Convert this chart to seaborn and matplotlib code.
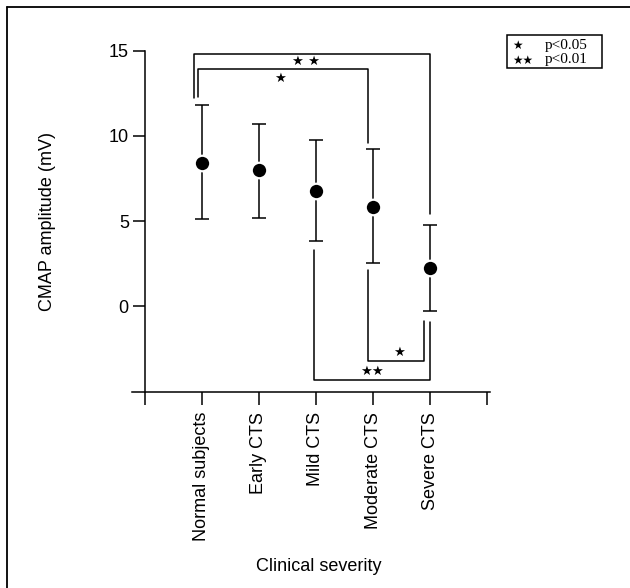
import matplotlib
matplotlib.use("Agg")
import matplotlib.pyplot as plt
import seaborn as sns
import numpy as np
import pandas as pd
from matplotlib.patches import Rectangle
from matplotlib.lines import Line2D

# ---- data ----
categories = ["Normal subjects", "Early CTS", "Mild CTS", "Moderate CTS", "Severe CTS"]
means = [8.43, 7.98, 6.76, 5.82, 2.25]
upper = [11.82, 10.70, 9.74, 9.22, 4.80]
lower = [5.14, 5.20, 3.84, 2.57, -0.24]
yticks = [0, 5, 10, 15]
legend_marks = ["★", "★★"]
legend_labels = ["p<0.05", "p<0.01"]

sns.set_style("white")
plt.rcParams['font.family'] = ['Liberation Sans', 'DejaVu Sans']
plt.rcParams.update({'text.color': 'black', 'axes.labelcolor': 'black',
                     'xtick.color': 'black', 'ytick.color': 'black'})

positions = list(range(1, len(categories) + 1))
df = pd.DataFrame({"pos": positions, "mean": means, "upper": upper, "lower": lower,
                   "cat": categories})

fig = plt.figure(figsize=(6.3, 5.88), dpi=100)
ax = fig.add_axes([131.7 / 630, 1 - 391.7 / 588, (490 - 131.7) / 630, (391.7 - 47.3) / 588])

yerr = [np.array(means) - np.array(lower), np.array(upper) - np.array(means)]
ax.errorbar(df["pos"], df["mean"], yerr=yerr, fmt='none', ecolor='black',
            elinewidth=1.1, capsize=4.8, capthick=1.1, zorder=2)
sns.scatterplot(data=df, x="pos", y="mean", ax=ax, s=125, color='black',
                edgecolor='white', linewidth=1.6, zorder=3, legend=False)

ax.set_xlim(-0.23, 6.05)
ax.set_ylim(-5, 15.2)

for s in ["top", "right"]:
    ax.spines[s].set_visible(False)
ax.spines["left"].set_position(("data", 0))
ax.spines["left"].set_bounds(-5, 15)
ax.spines["bottom"].set_position(("data", -5))
ax.spines["bottom"].set_bounds(-0.23, 6.05)
for s in ["left", "bottom"]:
    ax.spines[s].set_color('black')
    ax.spines[s].set_linewidth(1.1)

ax.set_xticks(range(0, 7))
ax.set_xticklabels([""] + categories + [""], rotation=90, fontsize=13)
ax.set_yticks(yticks)
ax.set_yticklabels([str(v) for v in yticks], fontsize=13)
ax.tick_params(axis='x', direction='out', length=9.5, width=1.1, pad=5, colors='black',
               bottom=True)
ax.tick_params(axis='y', direction='out', length=9, width=1.1, pad=2.5, colors='black',
               left=True)

ax.set_xlabel("Clinical severity", fontsize=13)
ax.xaxis.set_label_coords((319 - 131.7) / 358.3, -(558 - 391.7) / 344.4)
ax.set_ylabel("CMAP amplitude (mV)", fontsize=13)
ax.yaxis.label.set_va('center')
ax.yaxis.set_label_coords((48 - 131.7) / 358.3, 0.495)

# ---- significance brackets ----
lk = dict(color='black', lw=1.1, clip_on=False, zorder=1)
ax.plot([0.87, 0.87, 5.0, 5.0], [12.25, 14.8, 14.8, 5.4], **lk)
ax.plot([0.94, 0.94, 3.91, 3.91], [12.3, 13.9, 13.9, 9.6], **lk)
ax.plot([2.97, 2.97, 5.0, 5.0], [3.3, -4.3, -4.3, -0.92], **lk)
ax.plot([3.91, 3.91, 4.9, 4.9], [2.15, -3.18, -3.18, -0.88], **lk)
sk = dict(ha='center', va='center', fontsize=9.5, family=['DejaVu Sans'], color='black')
ax.text(2.82, 14.35, "★ ★", **sk)
ax.text(2.37, 13.35, "★", **sk)
ax.text(4.45, -2.69, "★", **sk)
ax.text(3.99, -3.82, "★★", **sk)

# ---- legend box ----
fig.patches.append(Rectangle((507 / 630, 1 - 68 / 588), (602 - 507) / 630, (68 - 35) / 588,
                             transform=fig.transFigure, fill=False, edgecolor='black',
                             linewidth=1.1))
for i, (m, lab) in enumerate(zip(legend_marks, legend_labels)):
    yy = 1 - (45 + 15 * i) / 588
    fig.text(512 / 630, yy, m, ha='left', va='center', fontsize=8.5, family=['DejaVu Sans'])
    fig.text(545 / 630, yy, lab, ha='left', va='center', fontsize=11,
             family=['Liberation Serif'])

# ---- frame border (top and left) ----
fig.lines.append(Line2D([7 / 630, 1.0], [1 - 7 / 588, 1 - 7 / 588], transform=fig.transFigure,
                        color='black', lw=1.3))
fig.lines.append(Line2D([7 / 630, 7 / 630], [0, 1 - 7 / 588], transform=fig.transFigure,
                        color='black', lw=1.3))

fig.savefig("out.png", dpi=100, facecolor='white')
